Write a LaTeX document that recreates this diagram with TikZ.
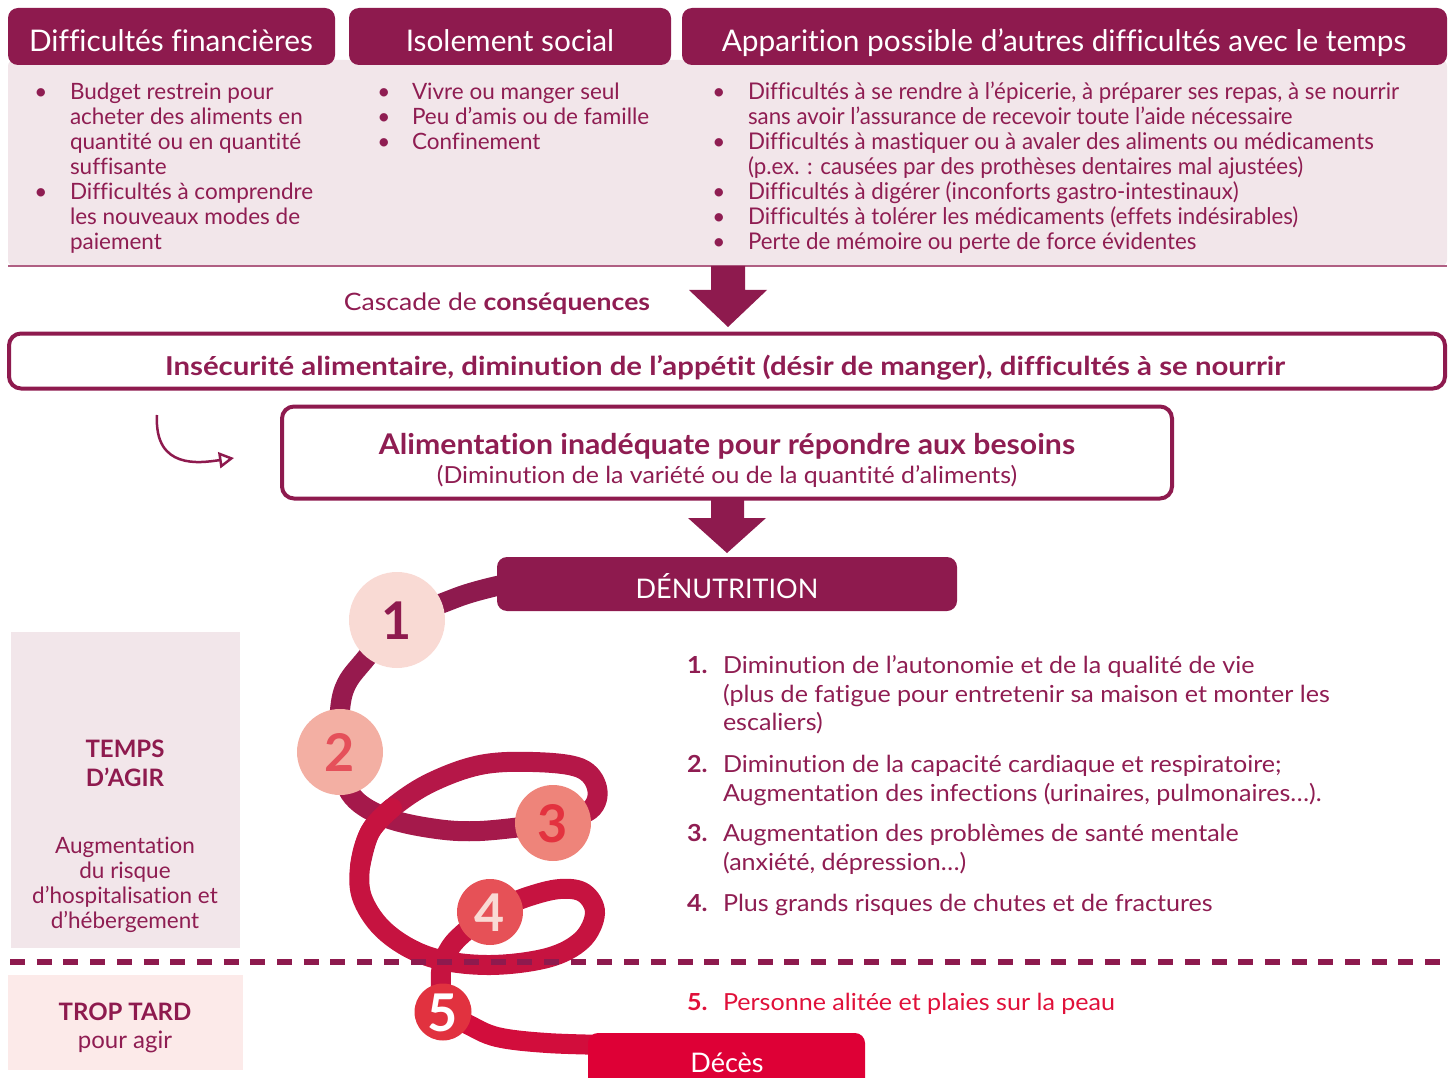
\documentclass[tikz,border=0pt]{standalone}
\usepackage{fontspec}
\setmainfont[Ligatures=NoCommon]{Lato}
\newfontfamily\condfont[FakeStretch=0.97,Ligatures=NoCommon]{Lato}
\newfontfamily\wideC[FakeStretch=1.107,Ligatures=NoCommon]{Lato}
\newfontfamily\wideI[FakeStretch=1.13,Ligatures=NoCommon]{Lato}
\newfontfamily\wideL[FakeStretch=1.067,Ligatures=NoCommon]{Lato}
\newfontfamily\wideM[FakeStretch=1.06,Ligatures=NoCommon]{Lato}
\usetikzlibrary{arrows.meta}
\definecolor{plum}{HTML}{8E1A4E}
\definecolor{plumtxt}{HTML}{8F1D52}
\definecolor{pinkbg}{HTML}{F2E6EA}
\definecolor{pinkbgb}{HTML}{FCEAE9}
\definecolor{redD}{HTML}{DE0036}
\definecolor{redT}{HTML}{E0103A}
\definecolor{cA}{HTML}{F9DAD4}
\definecolor{cB}{HTML}{F3AFA3}
\definecolor{cC}{HTML}{EE847A}
\definecolor{cD}{HTML}{E65157}
\definecolor{cE}{HTML}{E1323F}
\definecolor{nB}{HTML}{E5505A}
\definecolor{nC}{HTML}{E3323F}
\definecolor{spA}{HTML}{8E1A4E}
\definecolor{spB}{HTML}{971A4E}
\definecolor{spC}{HTML}{A5194B}
\definecolor{spD}{HTML}{B51748}
\definecolor{spE}{HTML}{C61340}
\definecolor{spF}{HTML}{D20D3C}
\newcommand\fzHead{\fontsize{29.8}{34}\selectfont}
\newcommand\fzBody{\fontsize{22.5}{25}\selectfont}
\newcommand\fzCond{\fontsize{23}{25}\selectfont\condfont}
\newcommand\fzList{\fontsize{23.5}{28}\selectfont\wideL}
\newcommand\fzNum{\fontsize{52}{52}\selectfont\bfseries}
\begin{document}
\begin{tikzpicture}[x=1pt,y=-1pt,
  every node/.style={inner sep=0pt, outer sep=0pt},
  hdr/.style={fill=plum, rounded corners=10, minimum height=57},
  hdrtxt/.style={anchor=base, text=white, font=\fzHead},
  btxt/.style={anchor=base west, text=plumtxt, font=\fzBody},
  ctxt/.style={anchor=base west, text=plumtxt, font=\fzCond},
  bul/.style={anchor=base, text=plumtxt, font=\fzBody},
  ltxt/.style={anchor=base west, text=plumtxt, font=\fzList},
  lnum/.style={anchor=base west, text=plumtxt, font=\fzList\bfseries},
  outline/.style={draw=plum, line width=4, rounded corners=12},
  spiral/.style={line width=20, line cap=round},
  stepcircle/.style={circle, font=\fzNum},
  fatarrow/.style={fill=plum},
]
\useasboundingbox (0,0) rectangle (1452,1078);

% ---------- top area ----------
\fill[pinkbg, rounded corners=6] (8,60) rectangle (1447,266);
\draw[plum!70, line width=2] (8,266) -- (1447,266);

\node[hdr, minimum width=327] (h1) at (171.5,36.5) {};
\node[hdr, minimum width=322] (h2) at (510,36.5) {};
\node[hdr, minimum width=765] (h3) at (1064.5,36.5) {};
\node[hdrtxt] (h1t) at (171,52) {Difficultés financières};
\node[hdrtxt] (h2t) at (510,52) {Isolement social};
\node[hdrtxt] (h3t) at (1064,52) {Apparition possible d’autres difficultés avec le temps};

% box 1
\node[bul] (b11) at (41,100) {•};
\node[btxt] (t11) at (70,100) {Budget restrein pour};
\node[btxt] (t12) at (70,125) {acheter des aliments en};
\node[btxt] (t13) at (70,150) {quantité ou en quantité};
\node[btxt] (t14) at (70,175) {suffisante};
\node[bul] (b12) at (41,200) {•};
\node[btxt] (t15) at (70,200) {Difficultés à comprendre};
\node[btxt] (t16) at (70,225) {les nouveaux modes de};
\node[btxt] (t17) at (70,250) {paiement};

% box 2
\node[bul] (b21) at (384,100) {•};
\node[bul] (b22) at (384,125) {•};
\node[bul] (b23) at (384,150) {•};
\node[btxt] (t21) at (412,100) {Vivre ou manger seul};
\node[btxt] (t22) at (412,125) {Peu d’amis ou de famille};
\node[btxt] (t23) at (412,150) {Confinement};

% box 3
\node[bul] (b31) at (719,100) {•};
\node[bul] (b32) at (719,150) {•};
\node[bul] (b33) at (719,200) {•};
\node[bul] (b34) at (719,225) {•};
\node[bul] (b35) at (719,250) {•};
\node[ctxt] (t31) at (748,100) {Difficultés à se rendre à l’épicerie, à préparer ses repas, à se nourrir};
\node[ctxt] (t32) at (748,125) {sans avoir l’assurance de recevoir toute l’aide nécessaire};
\node[ctxt] (t33) at (748,150) {Difficultés à mastiquer ou à avaler des aliments ou médicaments};
\node[ctxt] (t34) at (748,175) {(p.ex. : causées par des prothèses dentaires mal ajustées)};
\node[ctxt] (t35) at (748,200) {Difficultés à digérer (inconforts gastro-intestinaux)};
\node[ctxt] (t36) at (748,225) {Difficultés à tolérer les médicaments (effets indésirables)};
\node[ctxt] (t37) at (748,250) {Perte de mémoire ou perte de force évidentes};

% ---------- arrow 1 and cascade ----------
\fill[fatarrow] (711,266) -- (745,266) -- (745,290) -- (767,290) -- (728,327) -- (689,290) -- (711,290) -- cycle;
\node[anchor=base, text=plumtxt, font=\fontsize{24}{28}\selectfont\wideC] (casc) at (497,310) {Cascade de \textbf{conséquences}};

% ---------- insecurity box ----------
\node[outline, minimum width=1436, minimum height=55] (ins) at (727,361) {};
\node[anchor=base, text=plumtxt, font=\fontsize{26}{30}\selectfont\wideI\bfseries] (inst) at (725,375) {Insécurité alimentaire, diminution de l’appétit (désir de manger), difficultés à se nourrir};

% ---------- curved arrow ----------
\coordinate (ca1) at (157,415);
\coordinate (ca2) at (234,458);
\draw[plum, line width=2.5, -{Triangle[open, length=15, width=16, line width=2.5]}] (ca1) .. controls (154,470) and (200,463) .. (ca2);

% ---------- alimentation box ----------
\node[outline, minimum width=890, minimum height=92] (alim) at (727,452.5) {};
\node[anchor=base, text=plumtxt, font=\fontsize{28.5}{32}\selectfont\wideM\bfseries] (alt1) at (727,454) {Alimentation inadéquate pour répondre aux besoins};
\node[anchor=base, text=plumtxt, font=\fontsize{23.5}{28}\selectfont\wideM] (alt2) at (727,483) {(Diminution de la variété ou de la quantité d’aliments)};

\fill[fatarrow] (711,499) -- (744,499) -- (744,518) -- (766,518) -- (727,553) -- (688,518) -- (711,518) -- cycle;

% ---------- spiral ----------
\coordinate (c1p) at (397,620);
\coordinate (c2p) at (340,752);
\coordinate (c3p) at (553,823);
\coordinate (c4p) at (490,912);
\coordinate (c5p) at (443,1012);
\draw[spiral, spA] plot[smooth, tension=0.6] coordinates {(520,582) (497,586) (467,594) (440,604) (397,620)};
\draw[spiral, spB] plot[smooth, tension=0.6] coordinates {(397,620) (367,657) (347,683) (340,710) (340,752)};
\draw[spiral, spC] plot[smooth, tension=0.6] coordinates {(340,752) (350,793) (382,816) (430,828) (480,831) (553,823)};
\draw[spiral, spD] plot[smooth, tension=0.6] coordinates {(553,823) (590,810) (597,788) (580,768) (533,762) (480,765) (430,783) (392,808) (370,832) (360,867)};
\draw[spiral, spE] plot[smooth, tension=0.6] coordinates {(392,808) (370,832) (360,867) (363,900) (387,933) (430,957) (487,965) (547,958) (582,940) (595,913) (584,893) (560,889) (527,897) (490,912)};
\draw[spiral, spE] plot[smooth, tension=0.6] coordinates {(490,912) (467,930) (450,948) (441,972) (443,1012)};
\draw[spiral, spF] plot[smooth, tension=0.6] coordinates {(443,1012) (467,1024) (497,1037) (547,1043) (610,1045)};

% ---------- dashed separator ----------
\coordinate (dl) at (10,962);
\coordinate (dr) at (1447,962);
\draw[plum, line width=5.5, dash pattern=on 15 off 11.7] (dl) -- (dr);

% ---------- boxes on spiral ----------
\node[fill=plum, rounded corners=10, minimum width=460, minimum height=54] (den) at (727,584) {};
\node[anchor=base, text=white, font=\fontsize{27}{30}\selectfont] (dent) at (727,598) {DÉNUTRITION};
\node[fill=redD, rounded corners=10, minimum width=277, minimum height=64] (dec) at (726.5,1065) {};
\node[anchor=base, text=white, font=\fontsize{27}{30}\selectfont] (dect) at (727,1072) {Décès};

% ---------- circles ----------
\node[stepcircle, fill=cA, minimum size=96, text=plum] (n1) at (c1p) {};
\node[stepcircle, fill=cB, minimum size=86, text=nB] (n2) at (c2p) {};
\node[stepcircle, fill=cC, minimum size=76, text=nC] (n3) at (c3p) {};
\node[stepcircle, fill=cD, minimum size=66, text=cA] (n4) at (c4p) {};
\node[stepcircle, fill=cE, minimum size=57, text=white] (n5) at (c5p) {};
\node[anchor=base, font=\fzNum, text=plum] (n1t) at (397,639) {1};
\node[anchor=base, font=\fzNum, text=nB] (n2t) at (340,771) {2};
\node[anchor=base, font=\fzNum, text=nC] (n3t) at (553,842) {3};
\node[anchor=base, font=\fzNum, text=cA] (n4t) at (490,931) {4};
\node[anchor=base, font=\fzNum, text=white] (n5t) at (443,1031) {5};

% ---------- left boxes ----------
\node[fill=pinkbg, minimum width=229, minimum height=316] (tbox) at (125.5,790) {};
\node[anchor=base, text=plum, font=\fontsize{24}{28}\selectfont\bfseries] (tb1) at (125,757) {TEMPS};
\node[anchor=base, text=plum, font=\fontsize{24}{28}\selectfont\bfseries] (tb2) at (125,786) {D’AGIR};
\node[anchor=base, text=plumtxt, font=\fzBody] (tb3) at (125,853) {Augmentation};
\node[anchor=base, text=plumtxt, font=\fzBody] (tb4) at (125,878) {du risque};
\node[anchor=base, text=plumtxt, font=\fzBody] (tb5) at (125,903) {d’hospitalisation et};
\node[anchor=base, text=plumtxt, font=\fzBody] (tb6) at (125,928) {d’hébergement};
\node[fill=pinkbgb, minimum width=235, minimum height=95] (rbox) at (125.5,1022.5) {};
\node[anchor=base, text=plum, font=\fontsize{24}{28}\selectfont\bfseries] (rb1) at (125,1020) {TROP TARD};
\node[anchor=base, text=plumtxt, font=\fontsize{24}{28}\selectfont] (rb2) at (125,1048) {pour agir};

% ---------- right list ----------
\node[lnum] (l1n) at (687,673) {1.};
\node[ltxt] (l1a) at (723,673) {Diminution de l’autonomie et de la qualité de vie};
\node[ltxt] (l1b) at (723,702) {(plus de fatigue pour entretenir sa maison et monter les};
\node[ltxt] (l1c) at (723,730) {escaliers)};
\node[lnum] (l2n) at (687,772) {2.};
\node[ltxt] (l2a) at (723,772) {Diminution de la capacité cardiaque et respiratoire;};
\node[ltxt] (l2b) at (723,801) {Augmentation des infections (urinaires, pulmonaires…).};
\node[lnum] (l3n) at (687,841) {3.};
\node[ltxt] (l3a) at (723,841) {Augmentation des problèmes de santé mentale};
\node[ltxt] (l3b) at (723,870) {(anxiété, dépression…)};
\node[lnum] (l4n) at (687,911) {4.};
\node[ltxt] (l4a) at (723,911) {Plus grands risques de chutes et de fractures};
\node[lnum, text=redT] (l5n) at (687,1010) {5.};
\node[ltxt, text=redT] (l5a) at (723,1010) {Personne alitée et plaies sur la peau};
\end{tikzpicture}
\end{document}
